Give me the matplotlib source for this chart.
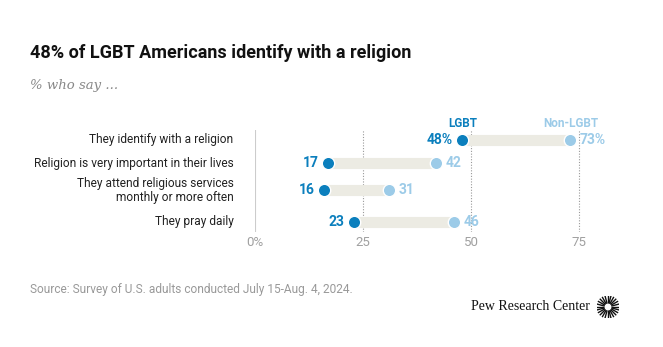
import matplotlib
matplotlib.use("Agg")
import matplotlib.pyplot as plt
import numpy as np

categories = ["They identify with a religion",
              "Religion is very important in their lives",
              "They attend religious services\nmonthly or more often",
              "They pray daily"]
lgbt = [48, 17, 16, 23]
non_lgbt = [73, 42, 31, 46]
xticks = [0, 25, 50, 75]
xticklabels = ["0%", "25", "50", "75"]

ypos = [0, 1, 2.17, 3.52]

DARK = "#0b7fbd"
LIGHT = "#9ccbe8"
BAR = "#ecebe3"
GRAY = "#a0a0a0"

W, H = 663, 347
fig = plt.figure(figsize=(W/100, H/100), dpi=100)
plt.rcParams['font.family'] = ['Roboto', 'DejaVu Sans']

ax = fig.add_axes([255/W, 115/H, 388.8/W, 102/H])
ax.set_xlim(0, 90)
ax.set_ylim(3.96, -0.43)
for s in ax.spines.values():
    s.set_visible(False)
ax.set_yticks([])
ax.set_xticks([])

for t in xticks[1:]:
    ax.axvline(t, color="#999999", lw=0.8, ls=(0, (1, 1.5)), zorder=1)
ax.axvline(0, color="#cccccc", lw=1.5, zorder=1)

for i, (y, a, b) in enumerate(zip(ypos, lgbt, non_lgbt)):
    ax.plot([a, b], [y, y], color=BAR, lw=8, solid_capstyle='butt', zorder=2)
    ax.scatter([a], [y], s=80, color=DARK, edgecolor="white", lw=1, zorder=3)
    ax.scatter([b], [y], s=80, color=LIGHT, edgecolor="white", lw=1, zorder=3)
    sfx = "%" if i == 0 else ""
    ax.text(a - 2.2, y, f"{a}{sfx}", ha="right", va="center", color=DARK,
            fontsize=10, fontweight="bold")
    ax.text(b + 2.2, y, f"{b}{sfx}", ha="left", va="center", color=LIGHT,
            fontsize=10, fontweight="bold")
    ax.text(-5, y, categories[i], ha="right", va="center", color="#222222",
            fontsize=8.6, linespacing=1.1)

for t, lab in zip(xticks, xticklabels):
    ax.text(t, 4.4, lab, ha="center", va="center", color=GRAY, fontsize=9.5)

ax.text(lgbt[0], -0.72, "LGBT", ha="center", va="center", color=DARK,
        fontsize=8.5, fontweight="bold")
ax.text(non_lgbt[0], -0.72, "Non-LGBT", ha="center", va="center", color=LIGHT,
        fontsize=8.5, fontweight="bold")

fig.text(30/W, 1 - 53/H, "48% of LGBT Americans identify with a religion",
         ha="left", va="center", fontsize=13, fontweight="bold", color="#111111")
fig.text(30/W, 1 - 85/H, "% who say ...", ha="left", va="center",
         fontsize=9.5, style="italic", color="#888888", family=["DejaVu Serif"])
fig.text(30/W, 1 - 290/H, "Source: Survey of U.S. adults conducted July 15-Aug. 4, 2024.",
         ha="left", va="center", fontsize=8.6, color="#999999")
fig.text(590/W, 1 - 307/H, "Pew Research Center", ha="right", va="center",
         fontsize=10, color="#111111", family=["Liberation Serif"])

# logo burst
lax = fig.add_axes([597/W, (H - 318)/H, 22/W, 22/H])
lax.set_xlim(-1, 1); lax.set_ylim(-1, 1); lax.axis("off")
for ang in np.linspace(0, np.pi, 12, endpoint=False):
    lax.plot([-np.cos(ang), np.cos(ang)], [-np.sin(ang), np.sin(ang)],
             color="#111111", lw=1.0)
lax.add_patch(plt.Circle((0, 0), 0.25, color="white", zorder=3))

fig.savefig("out.png", dpi=100)
